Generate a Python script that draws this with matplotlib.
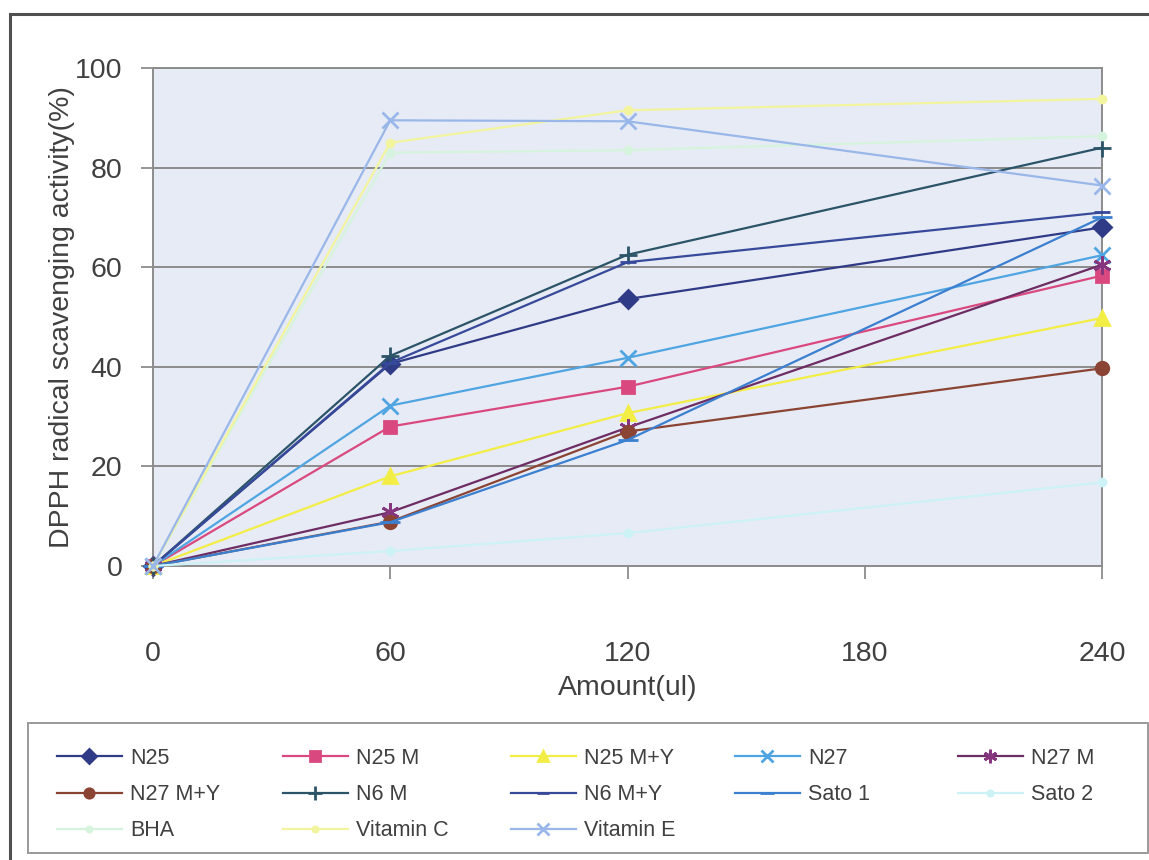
import matplotlib
matplotlib.use('Agg')
import matplotlib.pyplot as plt
from matplotlib.patches import Rectangle

plt.rcParams['font.family'] = ['Liberation Sans', 'DejaVu Sans']

amount = [0, 60, 120, 240]

series_names = ['N25', 'N25 M', 'N25 M+Y', 'N27', 'N27 M',
                'N27 M+Y', 'N6 M', 'N6 M+Y', 'Sato 1', 'Sato 2',
                'BHA', 'Vitamin C', 'Vitamin E']

n25 = [0, 40.6, 53.6, 68.0]
n25_m = [0, 28.0, 36.0, 58.3]
n25_my = [0, 18.0, 30.7, 49.8]
n27 = [0, 32.2, 41.8, 62.4]
n27_m = [0, 10.8, 27.8, 60.5]
n27_my = [0, 8.9, 27.0, 39.7]
n6_m = [0, 42.2, 62.5, 84.0]
n6_my = [0, 40.8, 61.0, 71.0]
sato1 = [0, 8.8, 25.3, 70.0]
sato2 = [0, 3.0, 6.6, 16.8]
bha = [0, 83.0, 83.5, 86.3]
vit_c = [0, 85.0, 91.5, 93.8]
vit_e = [0, 89.5, 89.3, 76.4]

values = [n25, n25_m, n25_my, n27, n27_m, n27_my, n6_m, n6_my,
          sato1, sato2, bha, vit_c, vit_e]

# style per series: (line colour, marker, marker colour, marker size)
styles = [
    ('#2f3b86', 'D', '#2f3b86', 9),
    ('#d9497f', 's', '#d9497f', 9),
    ('#f3ee45', '^', '#f3ee45', 10),
    ('#4fa4e2', 'x', '#4fa4e2', 11),
    ('#6d2c63', (6, 2, 0), '#86367f', 13),
    ('#8b4433', 'o', '#8b4433', 9),
    ('#2b5468', '+', '#2b5468', 13),
    ('#37499a', '_', '#37499a', 12),
    ('#3b7fd0', '_', '#3b7fd0', 14),
    ('#cdf2f6', 'o', '#cdf2f6', 5),
    ('#d6f4dd', 'o', '#d6f4dd', 5),
    ('#f2f49e', 'o', '#f2f49e', 5),
    ('#9ab7ea', 'x', '#9ab7ea', 11),
]

W, H = 1149, 860
fig = plt.figure(figsize=(W / 100, H / 100), dpi=100)
ax = fig.add_axes([153 / W, 1 - 566 / H, (1102 - 153) / W, (566 - 68) / H])
ax.set_facecolor('#e7ebf5')

handles = []
for name, vals, (col, mk, mcol, ms) in zip(series_names, values, styles):
    h, = ax.plot(amount, vals, color=col, lw=1.6, marker=mk, ms=ms,
                 markerfacecolor=mcol, markeredgecolor=mcol, mew=2,
                 label=name, clip_on=False, zorder=3)
    handles.append(h)

ax.set_xlim(0, 240)
ax.set_ylim(0, 100)
ax.set_xticks([0, 60, 120, 180, 240])
ax.set_yticks([0, 20, 40, 60, 80, 100])
ax.grid(axis='y', color='#8c8c8c', lw=1.4)
ax.set_axisbelow(True)
for s in ax.spines.values():
    s.set_color('#8c8c8c')
    s.set_linewidth(1.4)
ax.tick_params(axis='both', colors='#8c8c8c', labelcolor='#404040',
               labelsize=20.5, length=9, width=1.3, direction='out')
ax.tick_params(axis='x', pad=45)
ax.tick_params(axis='y', pad=13)
ax.set_xlabel('Amount(ul)', fontsize=20.5, color='#404040', labelpad=6)
ax.set_ylabel('DPPH radical scavenging activity(%)', fontsize=20.5,
              color='#404040', labelpad=0)

# legend: one column at a time so the entries line up like the original
columns = [[0, 5, 10], [1, 6, 11], [2, 7, 12], [3, 8], [4, 9]]
col_x = [57, 283, 511, 735, 958]
for idx, x0 in zip(columns, col_x):
    fig.legend([handles[i] for i in idx], [series_names[i] for i in idx],
               loc='upper left', bbox_to_anchor=(x0 / W, 1 - 748 / H),
               fontsize=15.5, handlelength=3.0, handletextpad=0.4,
               labelspacing=0.7, borderaxespad=0, borderpad=0,
               frameon=False, markerscale=0.75, labelcolor='#404040')

# legend box
fig.patches.append(Rectangle((28 / W, 1 - 853 / H), 1120 / W, 130 / H,
                             transform=fig.transFigure, fill=False,
                             edgecolor='#9a9a9a', lw=1.4))

# outer chart border
fig.patches.append(Rectangle((10 / W, -0.01), 1.02, 1 - 14 / H + 0.01,
                             transform=fig.transFigure, fill=False,
                             edgecolor='#505050', lw=2.2))

fig.savefig('out.png', dpi=100, facecolor='white')
